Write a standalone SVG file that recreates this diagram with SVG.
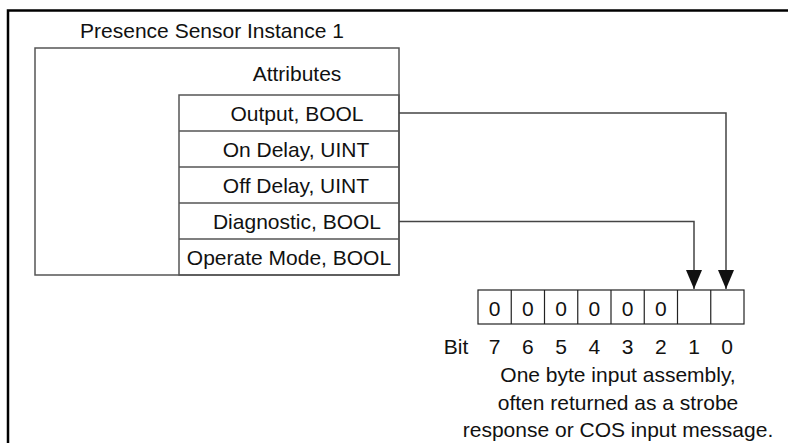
<svg xmlns="http://www.w3.org/2000/svg" width="788" height="443" viewBox="0 0 788 443">
<defs>
<style>
text{font-family:"Liberation Sans",Arial,sans-serif;font-size:21px;fill:#111;text-anchor:middle}
.box{fill:none;stroke:#555;stroke-width:1.5}
.cell{fill:none;stroke:#222;stroke-width:1.2}
.conn{fill:none;stroke:#444;stroke-width:1.5}
</style>
<marker id="arr" viewBox="0 0 19 16" refX="19" refY="8" markerWidth="19" markerHeight="16" markerUnits="userSpaceOnUse" orient="auto">
<path d="M0,0 L19,8 L0,16 Z" fill="#111"/>
</marker>
</defs>
<rect width="788" height="443" fill="#fff"/>
<path d="M8,443 L8,10.5 L788,10.5" fill="none" stroke="#000" stroke-width="2.5"/>
<g id="instance">
<text x="212" y="38">Presence Sensor Instance 1</text>
<rect class="box" x="35" y="48" width="364" height="227"/>
<text x="297" y="81">Attributes</text>
</g>
<g id="attributes">
<rect class="box" x="179" y="95" width="220" height="180"/>
<path class="box" d="M179,131 H399 M179,167 H399 M179,203 H399 M179,239 H399"/>
<text x="297" y="121">Output, BOOL</text>
<text x="296" y="157">On Delay, UINT</text>
<text x="296" y="193">Off Delay, UINT</text>
<text x="297" y="229">Diagnostic, BOOL</text>
<text x="289" y="265">Operate Mode, BOOL</text>
</g>
<g id="assembly">
<rect class="cell" x="478" y="290" width="266" height="34"/>
<path class="cell" d="M511.25,290 V324 M544.5,290 V324 M577.75,290 V324 M611,290 V324 M644.25,290 V324 M677.5,290 V324 M710.75,290 V324"/>
<text x="494.6" y="316">0</text>
<text x="527.9" y="316">0</text>
<text x="561.1" y="316">0</text>
<text x="594.4" y="316">0</text>
<text x="627.6" y="316">0</text>
<text x="660.9" y="316">0</text>
<text x="456" y="354">Bit</text>
<text x="494.6" y="354">7</text>
<text x="527.9" y="354">6</text>
<text x="561.1" y="354">5</text>
<text x="594.4" y="354">4</text>
<text x="627.6" y="354">3</text>
<text x="660.9" y="354">2</text>
<text x="694.1" y="354">1</text>
<text x="727" y="354">0</text>
<text x="618" y="382">One byte input assembly,</text>
<text x="618" y="410">often returned as a strobe</text>
<text x="618" y="437">response or COS input message.</text>
</g>
<g id="connectors">
<path class="conn" d="M399,113 H726 V289" marker-end="url(#arr)"/>
<path class="conn" d="M399,221.5 H694 V289" marker-end="url(#arr)"/>
</g>
</svg>
